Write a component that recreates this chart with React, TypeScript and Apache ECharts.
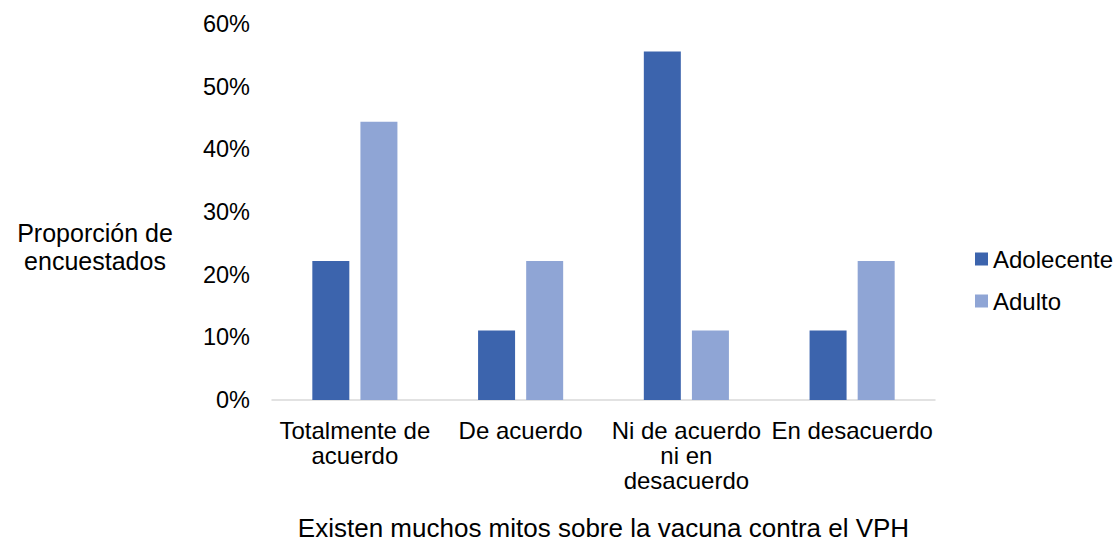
import React, { useEffect, useRef } from "react";
import * as echarts from "echarts";

const categories = ["Totalmente de\nacuerdo", "De acuerdo", "Ni de acuerdo\nni en\ndesacuerdo", "En desacuerdo"];
const adolecente = [22.2, 11.1, 55.6, 11.1];
const adulto = [44.4, 22.2, 11.1, 22.2];
const yTicks = [0, 10, 20, 30, 40, 50, 60];

const FONT = "'Liberation Sans', Arial, sans-serif";

export default function App() {
  const ref = useRef<HTMLDivElement>(null);
  useEffect(() => {
    const chart = echarts.init(ref.current!, null, { renderer: "svg" });
    chart.setOption({
      animation: false,
      textStyle: { fontFamily: FONT },
      grid: { left: 272, right: 184, top: 24, bottom: 146, containLabel: false },
      legend: {
        orient: "vertical",
        left: 975,
        top: 247,
        padding: 0,
        itemWidth: 13,
        itemHeight: 13,
        itemGap: 18,
        icon: "rect",
        textStyle: { fontSize: 24, color: "#000", fontFamily: FONT },
        data: ["Adolecente", "Adulto"],
      },
      graphic: [
        {
          type: "text",
          x: 95,
          y: 247,
          style: {
            text: "Proporción de\nencuestados",
            font: `25px ${FONT}`,
            fill: "#000",
            align: "center",
            verticalAlign: "middle",
            lineHeight: 28,
          },
        },
      ],
      xAxis: {
        type: "category",
        data: categories,
        name: "Existen muchos mitos sobre la vacuna contra el VPH",
        nameLocation: "middle",
        nameGap: 115,
        nameTextStyle: { fontSize: 26, color: "#000", fontFamily: FONT },
        axisLine: { lineStyle: { color: "#d9d9d9", width: 1.5 } },
        axisTick: { show: false },
        axisLabel: { fontSize: 24, color: "#000", fontFamily: FONT, lineHeight: 25, margin: 18, interval: 0 },
      },
      yAxis: {
        type: "value",
        min: 0,
        max: 60,
        interval: 10,
        splitLine: { show: false },
        axisLine: { show: false },
        axisTick: { show: false },
        axisLabel: {
          fontSize: 23.5,
          color: "#000",
          fontFamily: FONT,
          margin: 22,
          formatter: (v: number) => (yTicks.includes(v) ? `${v}%` : ""),
        },
      },
      series: [
        {
          name: "Adolecente",
          type: "bar",
          data: adolecente,
          barWidth: 37,
          barGap: "30%",
          itemStyle: { color: "#3c64ad" },
        },
        {
          name: "Adulto",
          type: "bar",
          data: adulto,
          barWidth: 37,
          itemStyle: { color: "#8fa5d5" },
        },
      ],
    });
    return () => chart.dispose();
  }, []);
  return <div ref={ref} style={{ width: 1119, height: 546, position: "absolute", left: 0, top: 0, background: "#fff" }} />;
}
